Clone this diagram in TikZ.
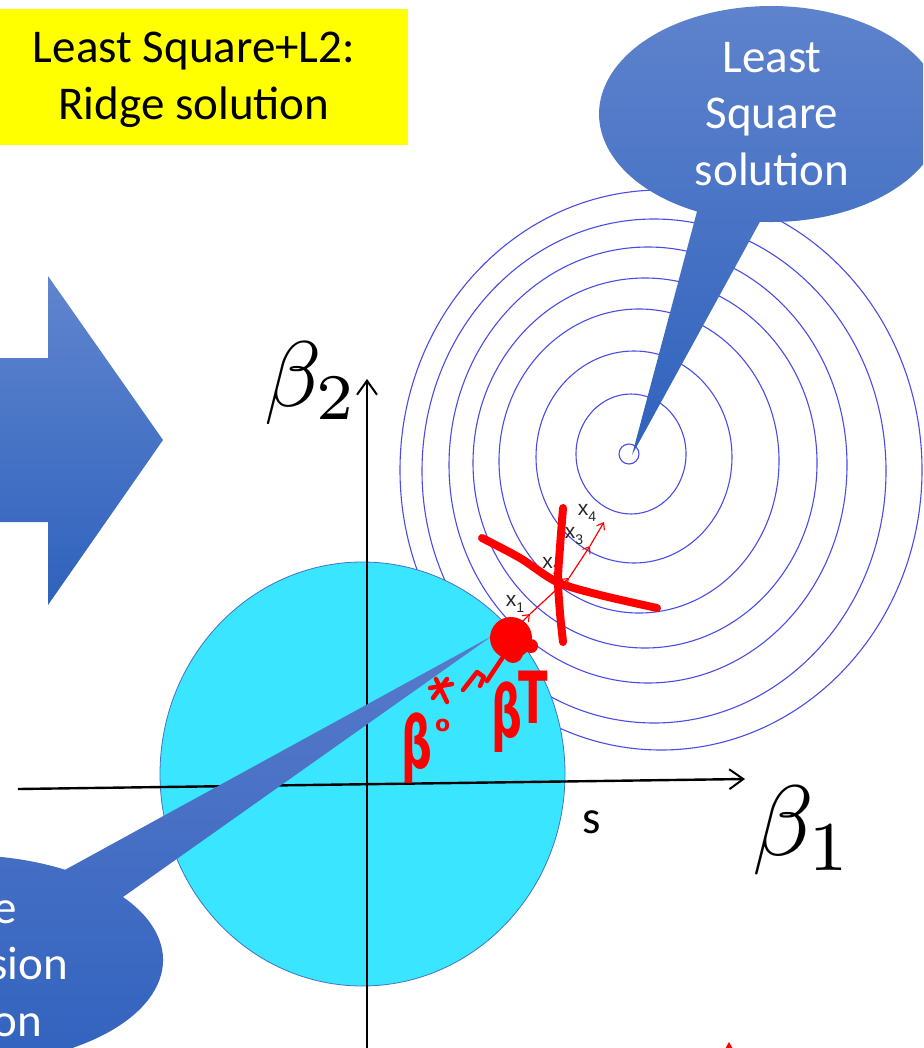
\documentclass[tikz,border=0pt]{standalone}
\usepackage[no-math]{fontspec}
\setmainfont{Carlito}
\newfontfamily\dejavu{DejaVu Sans}
\newfontfamily\arialf{Liberation Sans}
\usetikzlibrary{arrows.meta}
\definecolor{cyandisk}{RGB}{58,230,255}
\definecolor{contourblue}{RGB}{75,75,232}
\definecolor{diskedge}{RGB}{68,114,196}
\definecolor{bubtop}{RGB}{96,132,205}
\definecolor{bubbot}{RGB}{48,98,189}
\definecolor{lbtop}{RGB}{88,122,202}
\definecolor{lbbot}{RGB}{48,98,190}
\definecolor{arrtop}{RGB}{96,133,206}
\definecolor{arrbot}{RGB}{47,98,189}
\definecolor{yellowbox}{RGB}{255,255,0}
\tikzset{
  contour/.style={draw=contourblue, line width=1.1pt},
  axisline/.style={draw=black, line width=2.4pt, -{Straight Barb[length=14pt,width=20pt,line width=2pt]}},
  redpen/.style={draw=red, line width=8pt, line cap=round, line join=round},
  redthin/.style={draw=red, line width=4.5pt, line cap=round, line join=round},
  stepar/.style={draw=red, line width=1.2pt, -{Straight Barb[length=6pt,width=9pt,line width=1.1pt]}},
  bigtext/.style={inner sep=0pt, font=\fontsize{47}{56}\selectfont},
  xlab/.style={inner sep=0pt, text=black!85, font=\arialf\fontsize{21}{21}\selectfont},
  hand/.style={inner sep=0pt, text=red, font=\dejavu\bfseries\fontsize{72}{72}\selectfont}
}
\newcommand{\xsub}[1]{\raisebox{-6pt}{\fontsize{14}{14}\selectfont #1}}
\begin{document}
\begin{tikzpicture}[x=1pt,y=-1pt]
\useasboundingbox (0,0) rectangle (923,1048);
\clip (0,0) rectangle (923,1048);

% yellow title box
\node[fill=yellowbox, inner sep=0pt, minimum width=408pt, minimum height=136pt, anchor=north west] (ybox) at (0,9) {};
\node[bigtext, anchor=base] (title1) at (194,63) {Least Square+L2:};
\node[bigtext, anchor=base] (title2) at (194,120) {Ridge solution};

% block arrow
\shade[top color=arrtop, bottom color=arrbot] (-2,358) -- (48,358) -- (48,276) -- (163,440) -- (48,605) -- (48,522) -- (-2,522) -- cycle;

% contours
\foreach \cx/\cy/\rx/\ry in {631/454/55/60, 634/457/98/106, 639/461/140/152, 645/463/172/185, 648/465/199/218, 654/471/232/252, 661/470/261/280}
  \draw[contour] (\cx,\cy) ellipse [x radius=\rx, y radius=\ry];
\draw[contour] (629,454) circle [radius=10];

% constraint disk
\filldraw[fill=cyandisk, draw=diskedge, line width=0.8pt] (362.5,774) ellipse [x radius=202.5, y radius=212];

% axes
\coordinate (xs) at (18,789);
\coordinate (xe) at (745,779);
\coordinate (ys) at (367,1052);
\coordinate (ye) at (367,379);
\draw[axisline] (xs) -- (xe);
\draw[axisline] (ys) -- (ye);

% top-right callout
\shade[top color=bubtop, bottom color=bubbot] (697,211.5) arc[start angle=115.5, end angle=453.7, x radius=172, y radius=108] -- (632,455) -- cycle;
\node[bigtext, anchor=base, text=white] (ls1) at (772,73) {Least};
\node[bigtext, anchor=base, text=white] (ls2) at (772,129) {Square};
\node[bigtext, anchor=base, text=white] (ls3) at (772,186) {solution};

% bottom-left callout
\shade[top color=lbtop, bottom color=lbbot] (492,636) -- (123,897) arc[start angle=-36.9, end angle=300.7, x radius=200, y radius=105] -- cycle;
\node[bigtext, anchor=base east, text=white] (rr1) at (17,923) {e};
\node[bigtext, anchor=base east, text=white] (rr2) at (68,979) {sion};
\node[bigtext, anchor=base east, text=white] (rr3) at (42,1036) {on};

% axis labels
\node[anchor=base west, inner sep=0pt] (b2) at (264,406) {\scalebox{9.3}{$\beta_2$}};
\node[anchor=base west, inner sep=0pt] (b1) at (752,855) {\scalebox{10}{$\beta_1$}};
\node[bigtext, anchor=base west] (slab) at (582,833) {s};

% iterate labels
\node[xlab] (x1) at (515,603.5) {x\xsub{1}};
\node[xlab] (x2) at (551.5,566) {x\xsub{2}};
\node[xlab] (x3) at (574,536) {x\xsub{3}};
\node[xlab] (x4) at (587,512.5) {x\xsub{4}};

% step arrows
\coordinate (t0) at (511,633);
\coordinate (t1) at (530,614);
\coordinate (t2) at (569,578);
\coordinate (t3) at (590,546);
\coordinate (t4) at (604,522);
\draw[stepar] (t0) -- (t1);
\draw[stepar] (t1) -- (t2);
\draw[stepar] (t2) -- (t3);
\draw[stepar] (t3) -- (t4);

% red hand strokes
\draw[redpen] plot[smooth] coordinates {(482,538) (520,558) (557,582) (600,595) (657,608)};
\draw[redpen] plot[smooth] coordinates {(563,508) (560,547) (558,580) (560,613) (563,642)};
\fill[red] (511,638) circle [radius=21];
\fill[red] (531,646) circle [radius=7];
\fill[red] (513,653) circle [radius=10];
\draw[redthin] (430,688) -- (452,684);
\draw[redthin] (436,679) -- (447,702);
\draw[redthin] (433,698) -- (447,679);
\draw[redthin] (463,690) -- (477,672) -- (484,677) -- (480,686);
\draw[redthin] (487,681) -- (503,657);
\node[hand, anchor=base west] (beta0) at (401,768) {\scalebox{0.6}[1]{β}\kern3pt\raisebox{37pt}{\fontsize{22}{22}\selectfont o}};
\node[hand, anchor=base west] (betaT) at (491,737) {\scalebox{0.6}[1]{β}\kern-4pt\raisebox{14pt}{\scalebox{0.6}[1]{T}}};
\fill[red] (725,1049) -- (729,1042) -- (733,1049) -- cycle;
\end{tikzpicture}
\end{document}
